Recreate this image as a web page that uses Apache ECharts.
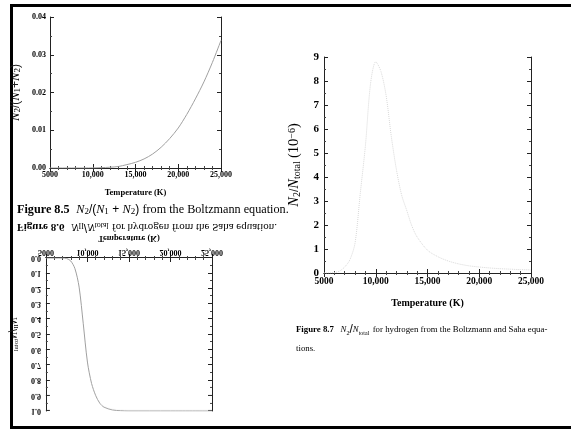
<!DOCTYPE html>
<html lang="en">
<head>
	<meta charset="utf-8">
	<title>Figures 8.5 - 8.7</title>
	<script src="https://cdn.jsdelivr.net/npm/echarts@6/dist/echarts.min.js"></script>
	<style>
		body { margin: 0; background: #fff; }
		#frame { position: absolute; left: 10px; top: 4px; width: 600px; height: 419px;
			border: 3px solid #000; border-right: none; }
		#main { position: absolute; left: 0; top: 0; width: 571px; height: 431px; }
		/* figure 8.6 is printed upside down on the page */
		#flipped { position: absolute; left: 0; top: 215px; width: 300px; height: 205px; transform: scaleY(-1); }
	</style>
</head>
<body>
<div id="frame"></div>
<div id="main"></div>
<div id="flipped"></div>
<script>
// ---- data ----
var tempTicks = [5000, 10000, 15000, 20000, 25000];
var tempLabels = ['5000', '10,000', '15,000', '20,000', '25,000'];

// Fig 8.5  N2/(N1+N2)
var temps85 = [5000, 6000, 7000, 8000, 9000, 10000, 11000, 12000, 13000, 14000, 15000,
	16000, 17000, 18000, 19000, 20000, 21000, 22000, 23000, 24000, 25000];
var ratio85 = [0, 0, 0, 0, 0, 0.00003, 0.0001, 0.0002, 0.0004, 0.0009, 0.0015,
	0.0024, 0.0037, 0.0055, 0.0078, 0.0106, 0.0142, 0.0183, 0.0228, 0.028, 0.0338];
var yLabels85 = ['0.00', '0.01', '0.02', '0.03', '0.04'];

// Fig 8.6  NII/Ntotal
var temps86 = [5000, 6000, 7000, 7500, 8000, 8500, 9000, 9500, 10000, 10500, 11000,
	11500, 12000, 13000, 14000, 15000, 20000, 25000];
var ratio86 = [0, 0, 0, 0.003, 0.02, 0.07, 0.19, 0.43, 0.68, 0.82, 0.9,
	0.95, 0.975, 0.993, 0.998, 1, 1, 1];
var yLabels86 = ['0.0', '0.1', '0.2', '0.3', '0.4', '0.5', '0.6', '0.7', '0.8', '0.9', '1.0'];

// Fig 8.7  N2/Ntotal (10^-6)
var temps87 = [5000, 5500, 6000, 6500, 7000, 7500, 8000, 8500, 9000, 9500, 10000, 10500,
	11000, 11500, 12000, 12500, 13000, 13500, 14000, 15000, 16000, 17000, 18000, 19000,
	20000, 21000, 22000, 23000, 24000, 25000];
var ratio87 = [0, 0, 0.02, 0.08, 0.25, 0.55, 1.25, 3.3, 5.3, 7.9, 8.8, 8.4,
	7.4, 5.7, 4.3, 3.25, 2.6, 1.95, 1.5, 0.95, 0.68, 0.5, 0.38, 0.3,
	0.25, 0.21, 0.18, 0.16, 0.14, 0.13];
var yLabels87 = ['0', '1', '2', '3', '4', '5', '6', '7', '8', '9'];

var serif = 'Liberation Serif';
// rich styles for math-ish text at a given size
function richSet(sz) {
	var sub = Math.round(sz * 0.7);
	return {
		i: { fontFamily: serif, fontStyle: 'italic', fontSize: sz, color: '#000' },
		s: { fontFamily: serif, fontSize: sub, color: '#000', verticalAlign: 'bottom', lineHeight: sub + 1 },
		p: { fontFamily: serif, fontSize: sub, color: '#000', verticalAlign: 'top', lineHeight: sub + 1 },
		t: { fontFamily: serif, fontSize: sz, color: '#000' },
		b: { fontFamily: serif, fontSize: sz, fontWeight: 'bold', color: '#000' }
	};
}

function pairs(xs, ys) {
	return xs.map(function (x, k) { return [x, ys[k]]; });
}
function tempFmt(v) {
	var k = tempTicks.indexOf(v);
	return k < 0 ? '' : tempLabels[k];
}
function listFmt(list, step) {
	return function (v) { return list[Math.round(v / step)] || ''; };
}

// a frame axis in the Mathematica style: ticks pointing inwards
function frameAxis(dim, g, pos, min, max, step, opts) {
	var a = {
		type: 'value', gridIndex: g, position: pos, min: min, max: max, interval: step,
		splitLine: { show: false },
		axisLine: { lineStyle: { color: '#222', width: 1 } },
		axisTick: { inside: true, length: 4, lineStyle: { color: '#222' } },
		minorTick: { show: true, splitNumber: dim === 'x' ? 5 : 2, length: 2, lineStyle: { color: '#444' } },
		axisLabel: { show: false }
	};
	for (var k in opts) a[k] = opts[k];
	return a;
}

var main = echarts.init(document.getElementById('main'));
main.setOption({
	animation: false,
	grid: [
		{ left: 50, top: 17, width: 171, height: 151 },
		{ left: 324, top: 57, width: 207, height: 216 }
	],
	xAxis: [
		frameAxis('x', 0, 'bottom', 5000, 25000, 5000, {
			axisLabel: { show: true, formatter: tempFmt, fontFamily: serif, fontWeight: 'bold', fontSize: 8, color: '#000', margin: 3 },
			name: 'Temperature (K)', nameLocation: 'middle', nameGap: 20,
			nameTextStyle: { fontFamily: serif, fontWeight: 'bold', fontSize: 8.5, color: '#000' }
		}),
		frameAxis('x', 0, 'top', 5000, 25000, 5000, {}),
		frameAxis('x', 1, 'bottom', 5000, 25000, 5000, {
			axisLabel: { show: true, formatter: tempFmt, fontFamily: serif, fontWeight: 'bold', fontSize: 9.5, color: '#000', margin: 4 },
			name: 'Temperature (K)', nameLocation: 'middle', nameGap: 25,
			nameTextStyle: { fontFamily: serif, fontWeight: 'bold', fontSize: 10, color: '#000' }
		}),
		frameAxis('x', 1, 'top', 5000, 25000, 5000, {})
	],
	yAxis: [
		frameAxis('y', 0, 'left', 0, 0.04, 0.01, {
			axisLabel: { show: true, formatter: listFmt(yLabels85, 0.01), fontFamily: serif, fontWeight: 'bold', fontSize: 8, color: '#000', margin: 4 },
			name: '{i|N}{s|2}/({i|N}{s|1}+{i|N}{s|2})', nameLocation: 'middle', nameGap: 28, nameRotate: 90,
			nameTextStyle: { rich: richSet(12.5) }
		}),
		frameAxis('y', 0, 'right', 0, 0.04, 0.01, {}),
		frameAxis('y', 1, 'left', 0, 9, 1, {
			axisLabel: { show: true, formatter: listFmt(yLabels87, 1), fontFamily: serif, fontWeight: 'bold', fontSize: 11, color: '#000', margin: 5 },
			name: '{i|N}{s|2}/{i|N}{s|total} {t|(10}{p|−6}{t|)}', nameLocation: 'middle', nameGap: 22, nameRotate: 90,
			nameTextStyle: { rich: richSet(14.5) }
		}),
		frameAxis('y', 1, 'right', 0, 9, 1, {})
	],
	series: [
		{ type: 'line', xAxisIndex: 0, yAxisIndex: 0, data: pairs(temps85, ratio85), smooth: 0.3,
			showSymbol: false, lineStyle: { color: '#a0a0a0', width: 1 } },
		{ type: 'line', xAxisIndex: 2, yAxisIndex: 2, data: pairs(temps87, ratio87), smooth: 0.3,
			showSymbol: false, lineStyle: { color: '#d8d8d8', width: 1, type: 'dotted' } }
	],
	graphic: [
		{ type: 'text', left: 17, top: 204, style: {
			text: '{b|Figure 8.5}  {i|N}{s|2}/({i|N}{s|1} + {i|N}{s|2}) {t|from the Boltzmann equation.}',
			rich: richSet(12.2) } },
		{ type: 'text', left: 296, top: 324, style: {
			text: '{b|Figure 8.7}  {i|N}{s|2}/{i|N}{s|total} {t|for hydrogen from the Boltzmann and Saha equa-}',
			rich: richSet(8.8) } },
		{ type: 'text', left: 296, top: 344, style: {
			text: '{t|tions.}', rich: richSet(8.8) } }
	]
});

// figure 8.6, drawn the right way up and then mirrored by the css transform
var flip = echarts.init(document.getElementById('flipped'));
flip.setOption({
	animation: false,
	grid: { left: 44, top: 9, width: 168, height: 153 },
	xAxis: [
		frameAxis('x', 0, 'bottom', 5000, 25000, 5000, {
			axisLabel: { show: true, formatter: tempFmt, fontFamily: serif, fontWeight: 'bold', fontSize: 8, color: '#000', margin: 2 },
			name: 'Temperature (K)', nameLocation: 'middle', nameGap: 15,
			nameTextStyle: { fontFamily: serif, fontWeight: 'bold', fontSize: 8.5, color: '#000' }
		}),
		frameAxis('x', 0, 'top', 5000, 25000, 5000, {})
	],
	yAxis: [
		frameAxis('y', 0, 'left', 0, 1, 0.1, {
			axisLabel: { show: true, formatter: listFmt(yLabels86, 0.1), fontFamily: serif, fontWeight: 'bold', fontSize: 8, color: '#000', margin: 5 },
			name: '{i|N}{s|II}/{i|N}{s|total}', nameLocation: 'middle', nameGap: 25, nameRotate: 90,
			nameTextStyle: { rich: richSet(10) }
		}),
		frameAxis('y', 0, 'right', 0, 1, 0.1, {})
	],
	series: [
		{ type: 'line', data: pairs(temps86, ratio86), smooth: 0.3,
			showSymbol: false, lineStyle: { color: '#a0a0a0', width: 1 } }
	],
	graphic: [
		{ type: 'text', left: 17, top: 187, style: {
			text: '{b|Figure 8.6}  {i|N}{s|II}/{i|N}{s|total} {t|for hydrogen from the Saha equation.}',
			rich: richSet(11) } }
	]
});
</script>
</body>
</html>
